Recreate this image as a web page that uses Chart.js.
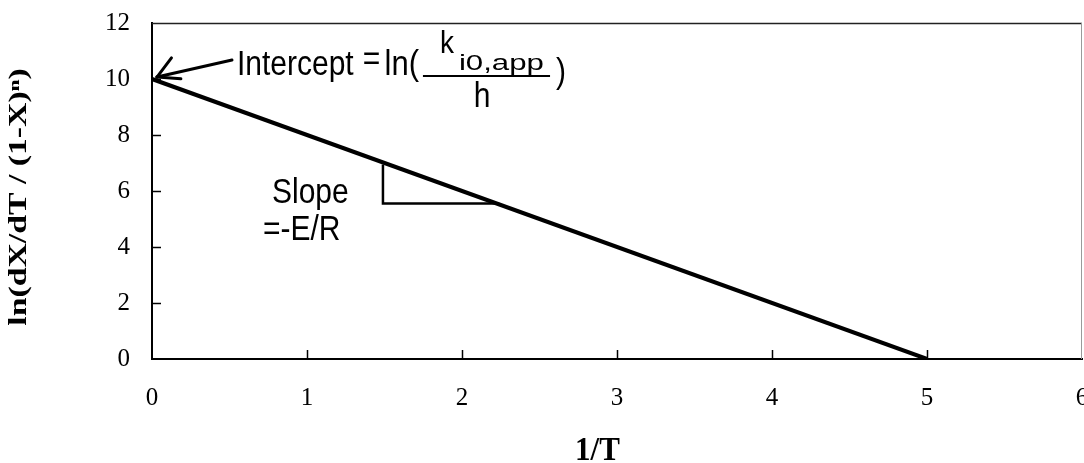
<!DOCTYPE html>
<html>
<head>
<meta charset="utf-8">
<script src="https://cdn.jsdelivr.net/npm/chart.js@4/dist/chart.umd.min.js"></script>
<style>
  html, body { margin: 0; padding: 0; background: #fff; overflow: hidden; }
  #wrap { width: 1084px; height: 463px; overflow: hidden; position: relative; }
  canvas { display: block; }
</style>
</head>
<body>
<div id="wrap"><canvas id="kinetics-chart" width="1100" height="463"></canvas></div>
<script>
/* ================================
   DATA
   ================================ */

// straight Arrhenius-type line: ln(dX/dT/(1-X)^n) vs 1/T
const lineX = [0, 5];
const lineY = [10, 0];

// slope triangle under the line
const slopeX = [1.49, 1.49, 2.24];
const slopeY = [6.95, 5.55, 5.55];

// axis ticks
const xTicks = [0, 1, 2, 3, 4, 5, 6];
const yTicks = [0, 2, 4, 6, 8, 10, 12];

const xTitle = "1/T";
const yTitle = "ln(dX/dT / (1-X)ⁿ)";

const SANS = '"Liberation Sans", Arial, sans-serif';
const SERIF = '"Liberation Serif", "Times New Roman", serif';

/* ================================
   HELPERS
   ================================ */

function toPoints(xs, ys) {
  return xs.map((x, i) => ({ x: x, y: ys[i] }));
}

// scanned text is a little taller than wide, so stretch it vertically
function drawLabel(ctx, text, px, py, size, align, sx, sy) {
  ctx.save();
  ctx.translate(px, py);
  ctx.scale(sx || 1, sy || 1.15);
  ctx.font = size + "px " + SANS;
  ctx.fillStyle = "#000";
  ctx.textAlign = align || "left";
  ctx.textBaseline = "alphabetic";
  ctx.fillText(text, 0, 0);
  ctx.restore();
}

/* ================================
   PLUGINS
   ================================ */

// frame (top/right) and inward tick marks
const frameAndTicks = {
  id: "frameAndTicks",
  afterDatasetsDraw(chart) {
    const { ctx, chartArea: a, scales: { x, y } } = chart;
    ctx.save();
    ctx.lineCap = "butt";

    ctx.strokeStyle = "#222";
    ctx.lineWidth = 1.5;
    ctx.beginPath();
    ctx.moveTo(a.left, a.top + 0.5);
    ctx.lineTo(a.right, a.top + 0.5);
    ctx.stroke();

    ctx.strokeStyle = "#9a9a9a";
    ctx.lineWidth = 1;
    ctx.beginPath();
    ctx.moveTo(a.right - 0.5, a.top);
    ctx.lineTo(a.right - 0.5, a.bottom);
    ctx.stroke();

    ctx.strokeStyle = "#000";
    ctx.lineWidth = 1.5;
    yTicks.slice(1, -1).forEach(v => {
      const py = Math.round(y.getPixelForValue(v)) + 0.5;
      ctx.beginPath();
      ctx.moveTo(a.left, py);
      ctx.lineTo(a.left + 9, py);
      ctx.stroke();
    });
    xTicks.slice(1, -1).forEach(v => {
      const px = Math.round(x.getPixelForValue(v)) + 0.5;
      ctx.beginPath();
      ctx.moveTo(px, a.bottom);
      ctx.lineTo(px, a.bottom - 9);
      ctx.stroke();
    });
    ctx.restore();
  }
};

// axis titles (stretched like the scan)
const axisTitles = {
  id: "axisTitles",
  afterDraw(chart) {
    const { ctx, chartArea: a } = chart;
    ctx.save();
    ctx.fillStyle = "#000";
    ctx.textBaseline = "middle";
    ctx.textAlign = "center";

    ctx.save();
    ctx.translate(20, (a.top + a.bottom) / 2 + 6);
    ctx.rotate(-Math.PI / 2);
    ctx.scale(1.35, 1);
    ctx.font = "bold 25px " + SERIF;
    ctx.fillText(yTitle, 0, 0);
    ctx.restore();

    ctx.save();
    ctx.translate(a.left + (a.right - a.left) * 0.479, 451);
    ctx.scale(1, 1.1);
    ctx.font = "bold 31px " + SERIF;
    ctx.fillText(xTitle, 0, 0);
    ctx.restore();

    ctx.restore();
  }
};

// intercept arrow and formula text, slope text
const annotations = {
  id: "annotations",
  afterDraw(chart) {
    const { ctx, scales: { x, y } } = chart;
    const px = v => x.getPixelForValue(v);
    const py = v => y.getPixelForValue(v);

    // arrow pointing at the intercept
    const tail = { x: px(0.516), y: py(10.68) };
    const tip = { x: px(0.032), y: py(10.07) };
    const ang = Math.atan2(tail.y - tip.y, tail.x - tip.x);
    ctx.save();
    ctx.strokeStyle = "#000";
    ctx.lineWidth = 3;
    ctx.lineCap = "round";
    ctx.beginPath();
    ctx.moveTo(tail.x, tail.y);
    ctx.lineTo(tip.x, tip.y);
    ctx.stroke();
    [-40, 17].forEach(deg => {
      const a2 = ang + deg * Math.PI / 180;
      ctx.beginPath();
      ctx.moveTo(tip.x, tip.y);
      ctx.lineTo(tip.x + 24 * Math.cos(a2), tip.y + 24 * Math.sin(a2));
      ctx.stroke();
    });
    ctx.restore();

    // Intercept = ln( k_i0,app / h )
    drawLabel(ctx, "Intercept", px(0.548), py(10.14), 30);
    drawLabel(ctx, "=", px(1.36), py(10.32), 30);
    drawLabel(ctx, "ln(", px(1.5), py(10.14), 31);
    drawLabel(ctx, "k", px(1.858), py(10.93), 28);
    drawLabel(ctx, "i0,app", px(1.98), py(10.32), 24, "left", 1.3, 0.92);
    drawLabel(ctx, "h", px(2.13), py(9.0), 30, "center");
    drawLabel(ctx, ")", px(2.606), py(9.86), 30);

    ctx.save();
    ctx.strokeStyle = "#000";
    ctx.lineWidth = 2;
    ctx.beginPath();
    ctx.moveTo(px(1.748), py(10.11));
    ctx.lineTo(px(2.568), py(10.11));
    ctx.stroke();
    ctx.restore();

    // Slope = -E/R
    drawLabel(ctx, "Slope", px(0.774), py(5.57), 30);
    drawLabel(ctx, "=-E/R", px(0.716), py(4.25), 30);
  }
};

/* ================================
   CHART
   ================================ */

function renderKineticsChart() {
  const ctx = document.getElementById("kinetics-chart").getContext("2d");

  new Chart(ctx, {
    type: "scatter",
    data: {
      datasets: [
        {
          data: toPoints(lineX, lineY),
          showLine: true,
          borderColor: "#000",
          borderWidth: 4,
          pointRadius: 0
        },
        {
          data: toPoints(slopeX, slopeY),
          showLine: true,
          borderColor: "#000",
          borderWidth: 2.5,
          borderJoinStyle: "miter",
          pointRadius: 0
        }
      ]
    },
    options: {
      responsive: false,
      animation: false,
      layout: { padding: { left: 0, top: 23, right: 18, bottom: 0 } },
      plugins: {
        legend: { display: false },
        tooltip: { enabled: false }
      },
      scales: {
        x: {
          type: "linear",
          min: 0,
          max: 6,
          afterBuildTicks: s => { s.ticks = xTicks.map(v => ({ value: v })); },
          afterFit: s => {
            s.height = 104;
            s.paddingLeft = 0;
            s.paddingRight = 0;
          },
          grid: { display: false, drawTicks: false },
          border: { color: "#000", width: 2 },
          ticks: {
            padding: 24,
            color: "#000",
            font: { family: SERIF, size: 25 }
          }
        },
        y: {
          type: "linear",
          min: 0,
          max: 12,
          afterBuildTicks: s => { s.ticks = yTicks.map(v => ({ value: v })); },
          afterFit: s => {
            s.width = 152;
            s.paddingTop = 0;
            s.paddingBottom = 0;
          },
          grid: { display: false, drawTicks: false },
          border: { color: "#000", width: 2 },
          ticks: {
            padding: 22,
            color: "#000",
            font: { family: SERIF, size: 25 }
          }
        }
      }
    },
    plugins: [frameAndTicks, axisTitles, annotations]
  });
}

renderKineticsChart();
</script>
</body>
</html>
